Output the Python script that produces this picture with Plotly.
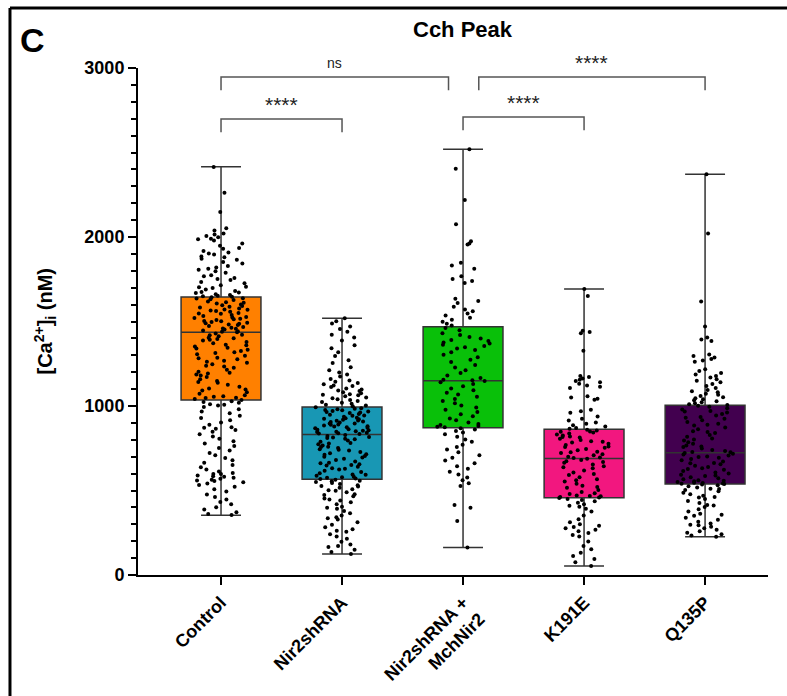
import plotly.graph_objects as go

categories = ["Control", "Nir2shRNA", "Nir2shRNA +<br>MchNir2", "K191E", "Q135P"]
colors = ["#FF8000", "#1897B4", "#09C009", "#F2177F", "#42004F"]

# Box summary values (min / Q1 / median / Q3 / max)
box_min = [353, 124, 162, 53, 227]
box_q1 = [1036, 566, 872, 457, 538]
box_median = [1436, 832, 1150, 690, 724]
box_q3 = [1645, 994, 1469, 862, 1004]
box_max = [2415, 1519, 2519, 1692, 2371]

control = [2414, 2262, 2148, 2052, 2038, 2021, 2006, 1998, 1987, 1979, 1962, 1948, 1931, 1917, 1909, 1903,
           1896, 1884, 1871, 1866, 1852, 1843, 1828, 1819, 1806, 1797, 1789, 1774, 1768, 1752, 1745, 1733,
           1726, 1714, 1706, 1698, 1689, 1681, 1674, 1668, 1661, 1657, 1652, 1649, 1646, 1671, 1702, 1758,
           1812, 1880, 1935, 1990, 2015,
           1643, 1638, 1632, 1627, 1619, 1614, 1606, 1601, 1596, 1588, 1583, 1577, 1569, 1562, 1558, 1551,
           1546, 1539, 1533, 1527, 1520, 1514, 1509, 1503, 1497, 1492, 1486, 1479, 1474, 1468, 1463, 1457,
           1452, 1447, 1443, 1440, 1611, 1592, 1571, 1548, 1524, 1501, 1482, 1459, 1636, 1517, 1565, 1489,
           1436, 1429, 1421, 1413, 1404, 1396, 1388, 1379, 1371, 1363, 1352, 1344, 1333, 1325, 1314, 1306,
           1297, 1286, 1277, 1268, 1256, 1247, 1238, 1226, 1214, 1203, 1192, 1180, 1171, 1159, 1148, 1137,
           1126, 1114, 1103, 1092, 1081, 1072, 1063, 1055, 1047, 1042, 1418, 1392, 1359, 1318, 1282, 1233,
           1187, 1142, 1098, 1058, 1401, 1340, 1262, 1197, 1049,
           1036, 1028, 1019, 1011, 1003, 994, 981, 968, 957, 943, 929, 916, 902, 889, 874, 866, 858, 847,
           833, 819, 806, 791, 778, 764, 751, 737, 722, 708, 693, 679, 664, 651, 638, 624, 612, 603, 597,
           589, 582, 576, 569, 563, 556, 549, 541, 533, 522, 508, 494, 476, 461, 447, 432, 418, 401, 388,
           372, 361, 355, 1024, 871, 585, 559, 1007, 598]

nir2shrna = [1519, 1502, 1488, 1471, 1455, 1440, 1421, 1405, 1388, 1360, 1342, 1318, 1296, 1271, 1254, 1230,
             1212, 1198, 1187, 1174, 1160, 1151, 1143, 1136, 1128, 1119, 1112, 1104, 1097, 1089, 1081, 1076,
             1070, 1063, 1057, 1051, 1046, 1040, 1035, 1029, 1024, 1019, 1013, 1008, 1003, 998, 1121, 1092, 1066,
             992, 987, 981, 976, 970, 965, 959, 953, 948, 942, 937, 931, 925, 919, 914, 908, 902, 897, 891,
             885, 879, 874, 868, 862, 857, 851, 846, 841, 837, 834, 983, 961, 944, 921, 905, 889, 871, 853,
             839, 968, 928, 896, 860, 975, 912, 880, 847,
             829, 823, 817, 810, 803, 796, 789, 781, 774, 766, 759, 751, 744, 736, 728, 720, 712, 704, 696,
             688, 680, 672, 664, 656, 648, 640, 632, 624, 617, 609, 602, 595, 588, 582, 576, 571, 568, 813,
             778, 741, 700, 661, 628, 593, 806, 757, 714, 651, 579,
             564, 558, 551, 545, 538, 531, 523, 516, 508, 499, 489, 478, 466, 453, 441, 430, 418, 404, 392,
             378, 366, 352, 341, 328, 312, 298, 283, 270, 256, 241, 228, 214, 197, 181, 165, 149, 136, 124,
             555, 527, 502, 473, 447, 398, 336, 262, 172]

rescue = [2519, 2404, 2219, 2075, 1975, 1962, 1955, 1848, 1832, 1812, 1768, 1752, 1740, 1728, 1634, 1622,
          1609, 1588, 1571, 1560, 1547, 1536, 1522, 1511, 1498, 1487, 1476,
          1462, 1448, 1431, 1420, 1408, 1399, 1391, 1384, 1376, 1370, 1362, 1355, 1348, 1340, 1331, 1318,
          1303, 1289, 1274, 1261, 1243, 1228, 1212, 1196, 1181, 1166, 1155, 1152,
          1148, 1141, 1130, 1117, 1104, 1093, 1079, 1068, 1054, 1041, 1029, 1016, 1003, 991, 978, 964, 951,
          939, 926, 915, 903, 894, 887, 881, 877, 874,
          869, 861, 852, 843, 833, 818, 802, 788, 771, 757, 742, 726, 709, 694, 678, 661, 643, 628, 611,
          594, 577, 560, 543, 527, 414, 398, 320, 162]

k191e = [1692, 1651, 1445, 1438, 1430, 1327, 1178, 1171, 1163, 1156, 1148, 1140, 1131, 1122, 1114, 1106,
         1058, 1050, 1043, 1037, 978, 969, 960, 938, 925, 914, 903, 895, 886, 878, 870, 866,
         860, 855, 849, 843, 838, 832, 826, 820, 813, 806, 799, 791, 784, 776, 769, 761, 753, 746, 738,
         730, 722, 715, 708, 700, 695, 692, 847, 817, 788, 757, 727,
         688, 681, 673, 664, 654, 643, 631, 619, 606, 592, 579, 566, 553, 540, 528, 516, 503, 491, 480,
         471, 466, 462, 459, 668, 637, 598, 560, 521, 484, 468,
         455, 450, 444, 437, 428, 419, 410, 404, 392, 376, 352, 330, 312, 301, 292, 284, 276, 268, 259,
         248, 237, 228, 198, 171, 152, 131, 112, 94, 76, 53]

q135p = [2371, 2020, 1619, 1471, 1405, 1393, 1384, 1305, 1296, 1287, 1278, 1269, 1262, 1218, 1207, 1196,
         1186, 1177, 1168, 1159, 1150, 1141, 1130, 1118, 1106, 1095, 1087, 1081, 1073, 1066, 1059, 1052,
         1046, 1040, 1034, 1028, 1022, 1016, 1010, 1006,
         1001, 995, 987, 979, 971, 962, 953, 944, 935, 925, 915, 905, 895, 884, 873, 862, 851, 840, 829,
         818, 807, 796, 786, 776, 766, 757, 748, 740, 733, 728, 726, 968, 931, 889, 846, 802, 761,
         722, 718, 713, 707, 701, 694, 687, 679, 671, 663, 655, 647, 639, 631, 623, 615, 607, 600, 593,
         586, 579, 572, 566, 560, 555, 550, 546, 542, 540, 539, 698, 661, 627, 589, 557, 544,
         536, 531, 525, 518, 511, 503, 495, 487, 478, 469, 459, 449, 438, 426, 414, 402, 389, 376, 363,
         351, 339, 327, 315, 304, 294, 285, 276, 268, 259, 250, 241, 233, 227, 509, 462, 411, 356, 298]

groups = [control, nir2shrna, rescue, k191e, q135p]

# significance comparisons: (left cat index, right cat index, bracket y, label)
comparisons = [(0, 1, 2698, "****"), (0, 1.88, 2947, "ns"), (2.13, 4, 2947, "****"), (2, 3, 2710, "****")]
leg_drop = 78

FONT = "Liberation Sans, Arial, Helvetica, sans-serif"
BOXW = 0.66

fig = go.Figure()
for i, cat in enumerate(categories):
    fig.add_trace(go.Box(
        x=[cat], q1=[box_q1[i]], median=[box_median[i]], q3=[box_q3[i]],
        lowerfence=[box_min[i]], upperfence=[box_max[i]],
        fillcolor=colors[i], line=dict(color="#333333", width=1.5),
        whiskerwidth=0.5, width=BOXW, boxpoints=False, showlegend=False,
    ))
    fig.add_trace(go.Box(
        x=[cat] * len(groups[i]), y=groups[i],
        boxpoints="all", jitter=0.7, pointpos=0, width=BOXW,
        fillcolor="rgba(0,0,0,0)", line=dict(color="rgba(0,0,0,0)", width=0),
        marker=dict(color="black", size=4), showlegend=False,
    ))

shapes = []
annotations = []
for (a, b, yv, lab) in comparisons:
    shapes.append(dict(type="path", xref="x", yref="y",
                       path=f"M {a} {yv - leg_drop} L {a} {yv} L {b} {yv} L {b} {yv - leg_drop}",
                       line=dict(color="#555555", width=1.5)))
    if lab == "ns":
        annotations.append(dict(x=(a + b) / 2, y=yv + 22, xref="x", yref="y", text=lab, showarrow=False,
                                xanchor="center", yanchor="bottom",
                                font=dict(family=FONT, size=14, color="#222222")))
    else:
        annotations.append(dict(x=(a + b) / 2, y=yv + 5, xref="x", yref="y", text=lab, showarrow=False,
                                xanchor="center", yanchor="bottom",
                                font=dict(family=FONT, size=21, color="#222222")))

# outer frame lines (left and top)
shapes.append(dict(type="line", xref="paper", yref="paper", x0=-0.2032, x1=-0.2032, y0=1.1183, y1=-0.26,
                   line=dict(color="black", width=3)))
shapes.append(dict(type="line", xref="paper", yref="paper", x0=-0.2032, x1=1.04, y0=1.1183, y1=1.1183,
                   line=dict(color="black", width=3)))

annotations.append(dict(x=2, y=1.075, xref="x", yref="paper", text="Cch Peak", showarrow=False,
                        xanchor="center", yanchor="middle",
                        font=dict(family=FONT, size=22, color="black", weight="bold")))
annotations.append(dict(x=-0.167, y=1.0552, xref="paper", yref="paper", text="C", showarrow=False,
                        xanchor="center", yanchor="middle",
                        font=dict(family=FONT, size=34, color="black", weight="bold")))
annotations.append(dict(x=-0.1476, y=0.5, xref="paper", yref="paper",
                        text="[Ca<sup>2+</sup>]<sub>i</sub> (nM)", showarrow=False, textangle=-90,
                        xanchor="center", yanchor="middle",
                        font=dict(family=FONT, size=20, color="black", weight="bold")))

fig.update_layout(
    width=787, height=696,
    margin=dict(l=138, r=19, t=68, b=121, autoexpand=False),
    paper_bgcolor="white", plot_bgcolor="white",
    boxmode="overlay",
    shapes=shapes, annotations=annotations,
    font=dict(family=FONT, color="black"),
)
fig.update_xaxes(
    type="category", categoryorder="array", categoryarray=categories,
    range=[-0.686, 4.52], showline=True, linewidth=2, linecolor="black", automargin=False,
    ticks="outside", ticklen=8, tickwidth=2, tickcolor="black", tickangle=-45,
    tickfont=dict(family=FONT, size=18, color="black", weight="bold"),
    showgrid=False, zeroline=False,
)
fig.update_yaxes(
    range=[0, 3000], tickvals=[0, 1000, 2000, 3000], showline=True, linewidth=2, linecolor="black",
    automargin=False,
    ticks="outside", ticklen=8, tickwidth=2, tickcolor="black",
    minor=dict(dtick=100, ticks="outside", ticklen=5, tickwidth=2, tickcolor="black", showgrid=False),
    tickfont=dict(family=FONT, size=18, color="black", weight="bold"),
    showgrid=False, zeroline=False,
)

# remove the page's default body margin so the figure sits at the window's top-left corner
fig.write_html("out.html", config={"displayModeBar": False},
               post_script="document.body.style.margin='0px';")
